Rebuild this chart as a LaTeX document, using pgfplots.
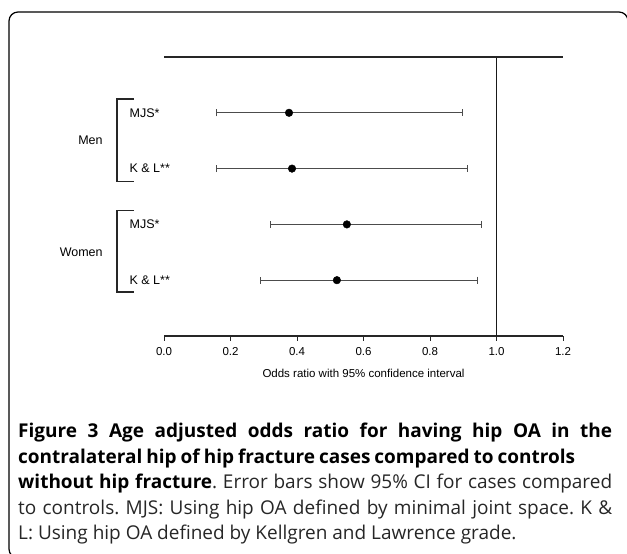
\documentclass[border=0pt]{standalone}
\usepackage{fontspec}
\setmainfont{Liberation Sans}
\newfontfamily\capfont{Open Sans}
\usepackage{pgfplots}
\pgfplotsset{compat=1.18}

% odds ratios with 95% CI (em = OR - lower, ep = upper - OR)
\pgfplotstableread{
y   x      em     ep
4   0.376  0.217  0.523
3   0.385  0.226  0.529
2   0.550  0.231  0.405
1   0.520  0.231  0.424
}\ordata

\newcommand{\lab}{\fontsize{12.5}{14}\selectfont}
\newcommand{\tk}{\fontsize{11.5}{13}\selectfont}

\begin{document}
\frenchspacing
\begin{tikzpicture}
\useasboundingbox (0pt,0pt) rectangle (627pt,554pt);
% rounded frame
\begin{scope}
\clip (0pt,0pt) rectangle (627pt,554pt);
\draw[line width=1.2pt, rounded corners=9pt] (628pt,300pt) -- (628pt,542pt) -- (9pt,542pt) -- (9pt,-4pt) -- (200pt,-4pt);
\end{scope}

\begin{axis}[
    at={(164pt,218pt)}, anchor=south west,
    width=399pt, height=279pt, scale only axis,
    xmin=0, xmax=1.2, ymin=0, ymax=5,
    axis x line*=bottom, hide y axis,
    x axis line style={-, line width=1.3pt, black!85},
    xtick={0,0.2,0.4,0.6,0.8,1.0,1.2},
    tick align=outside, major tick length=5pt,
    tick style={black!85, line width=0.8pt},
    xticklabel style={font=\tk, yshift=-3pt},
    /pgf/number format/.cd, fixed, fixed zerofill, precision=1, assume math mode=true,
    /pgfplots/.cd,
    xlabel={Odds ratio with 95\% confidence interval},
    xlabel style={font=\tk, at={(axis description cs:0.5,0)}, anchor=base, yshift=-42pt},
    clip=false,
]
% line of no effect
\addplot[black!90, line width=1.4pt] coordinates {(1,0) (1,5)};
\draw[black!85, line width=1.8pt] (rel axis cs:0,1) -- (rel axis cs:1,1);

\addplot[only marks, mark=*, mark size=3.8pt, black,
    error bars/.cd, x dir=both, x explicit, error mark=|,
    error bar style={black!70, line width=0.9pt},
    error mark options={mark size=3.5pt, black!70, line width=0.9pt}]
    table[x=x, y=y, x error plus=ep, x error minus=em] {\ordata};

% group labels and brackets
\node[anchor=west, font=\lab] at (axis cs:-0.114,4) {MJS*};
\node[anchor=west, font=\lab] at (axis cs:-0.114,3) {K \& L**};
\node[anchor=west, font=\lab] at (axis cs:-0.114,2) {MJS*};
\node[anchor=west, font=\lab] at (axis cs:-0.114,1) {K \& L**};
\node[anchor=east, font=\lab] at (axis cs:-0.174,3.5) {Men};
\node[anchor=east, font=\lab] at (axis cs:-0.174,1.5) {Women};
\draw[line width=1.8pt, black!85] (axis cs:-0.090,4.244) -| (axis cs:-0.141,2.77) -- (axis cs:-0.090,2.77);
\draw[line width=1.8pt, black!85] (axis cs:-0.090,2.25) -| (axis cs:-0.141,0.786) -- (axis cs:-0.090,0.786);
\end{axis}

% caption
\node[anchor=base west, inner sep=0pt] at (18pt,116pt) {\parbox[t]{600pt}{\capfont\fontsize{19}{25.5}\selectfont
\makebox[594pt][s]{\textbf{Figure 3 Age adjusted odds ratio for having hip OA in the}}\\
\makebox[557pt][s]{\textbf{contralateral hip of hip fracture cases compared to controls}}\\
\makebox[594pt][s]{\textbf{without hip fracture}{\color{black!85}. Error bars show 95\% CI for cases compared}}\\
\makebox[594pt][s]{\color{black!85}to controls. MJS: Using hip OA defined by minimal joint space. K \&}\\
{\color{black!85}L: Using hip OA defined by Kellgren and Lawrence grade.}}};
\end{tikzpicture}
\end{document}
